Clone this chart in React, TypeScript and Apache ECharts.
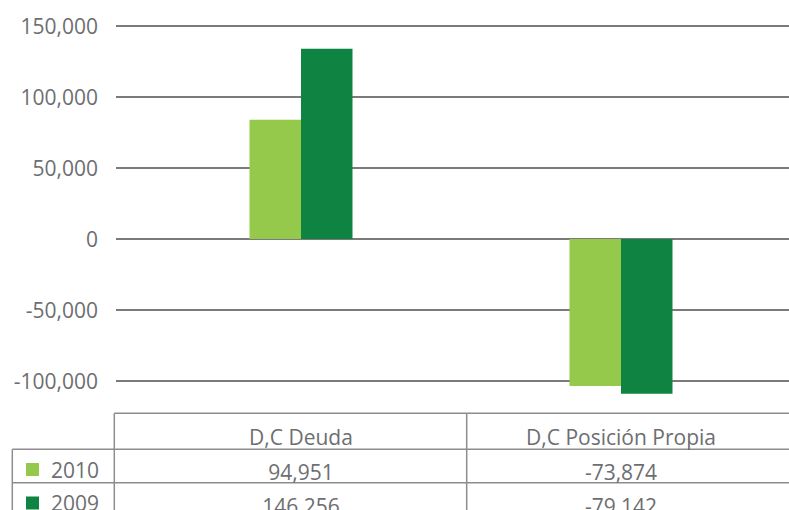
import React, { useEffect, useRef } from "react";
import * as echarts from "echarts";

const categories = ["D,C Deuda", "D,C Posición Propia"];
const seriesNames = ["2010", "2009"];
// bar heights as drawn in the picture
const bars2010 = [84000, -103500];
const bars2009 = [134000, -109000];
// values printed in the data table
const table2010 = [94951, -73874];
const table2009 = [146256, -79142];
const yMin = -100000;
const yMax = 150000;
const yInterval = 50000;

const colors = ["#94c94c", "#0e8342"];
const textColor = "#6d6e71";
const font = "'Open Sans', sans-serif";
const fmt = (v: number) => v.toLocaleString("en-US");

export default function App() {
  const ref = useRef<HTMLDivElement>(null);
  useEffect(() => {
    document.body.style.margin = "0";
    const chart = echarts.init(ref.current!, null, { renderer: "svg" });
    const tableLine = { stroke: "#8d8d8d", lineWidth: 1.5 };
    const labelAxis = (data: string[], margin: number) => ({
      gridIndex: 1,
      type: "category",
      position: "bottom",
      data,
      axisLine: { show: false },
      axisTick: { show: false },
      splitLine: { show: false },
      axisLabel: {
        margin,
        interval: 0,
        verticalAlign: "middle",
        fontSize: 21,
        fontFamily: font,
        color: textColor,
      },
    });
    chart.setOption({
      animation: false,
      textStyle: { fontFamily: font },
      grid: [
        { left: 116, right: 0, top: 26, height: 355, outerBoundsMode: "none", containLabel: false },
        { left: 141, right: 8, top: 26, height: 355, outerBoundsMode: "none", containLabel: false },
      ],
      legend: {
        data: seriesNames,
        orient: "vertical",
        left: 26,
        top: 459,
        height: 90,
        padding: 0,
        itemGap: 12.5,
        itemWidth: 13,
        itemHeight: 13,
        icon: "rect",
        selectedMode: false,
        textStyle: {
          fontSize: 21,
          fontFamily: font,
          color: textColor,
          padding: [0, 0, 0, 7],
        },
      },
      xAxis: [
        { gridIndex: 0, type: "category", data: categories, show: false },
        labelAxis(categories, 56),
        labelAxis(table2010.map(fmt), 91),
        labelAxis(table2009.map(fmt), 125),
      ],
      yAxis: [
        {
          gridIndex: 0,
          type: "value",
          min: yMin,
          max: yMax,
          interval: yInterval,
          axisLine: { show: false },
          axisTick: { show: false },
          axisLabel: {
            margin: 18,
            fontSize: 21,
            fontFamily: font,
            color: textColor,
            formatter: (v: number) => fmt(v),
          },
          splitLine: { lineStyle: { color: "#7b7b7b", width: 2 } },
        },
        {
          gridIndex: 1,
          type: "value",
          min: yMin,
          max: yMax,
          interval: yInterval,
          show: false,
          splitLine: { show: false },
        },
      ],
      series: [
        {
          name: seriesNames[0],
          type: "bar",
          xAxisIndex: 1,
          yAxisIndex: 1,
          data: bars2010,
          barWidth: 51.5,
          barGap: "0%",
          clip: false,
          itemStyle: { color: colors[0] },
        },
        {
          name: seriesNames[1],
          type: "bar",
          xAxisIndex: 1,
          yAxisIndex: 1,
          data: bars2009,
          barWidth: 51.5,
          barGap: "0%",
          clip: false,
          itemStyle: { color: colors[1] },
        },
      ],
      graphic: [
        { type: "line", shape: { x1: 114.3, y1: 413.3, x2: 789, y2: 413.3 }, style: tableLine },
        { type: "line", shape: { x1: 12.3, y1: 449.3, x2: 789, y2: 449.3 }, style: tableLine },
        { type: "line", shape: { x1: 12.3, y1: 482.7, x2: 789, y2: 482.7 }, style: tableLine },
        { type: "line", shape: { x1: 12.3, y1: 449.3, x2: 12.3, y2: 512 }, style: tableLine },
        { type: "line", shape: { x1: 114.3, y1: 413.3, x2: 114.3, y2: 512 }, style: tableLine },
        { type: "line", shape: { x1: 466.7, y1: 413.3, x2: 466.7, y2: 512 }, style: tableLine },
      ],
    });
    return () => chart.dispose();
  }, []);
  return (
    <div
      ref={ref}
      style={{ position: "absolute", left: 0, top: 0, width: 789, height: 510 }}
    />
  );
}
